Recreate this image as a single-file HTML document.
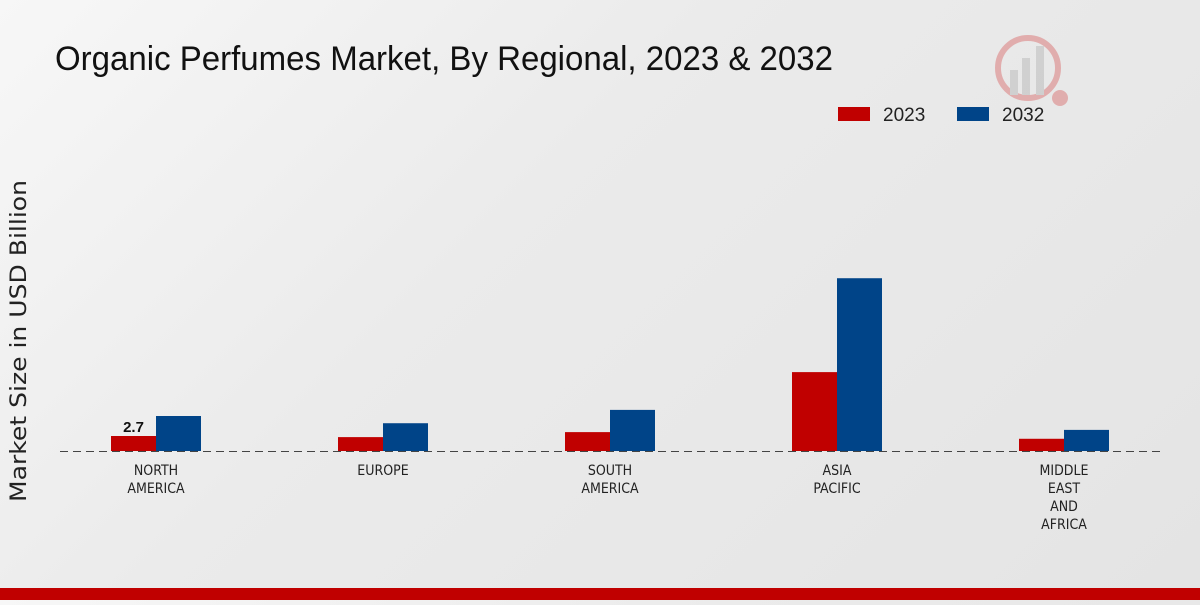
<!DOCTYPE html>
<html><head><meta charset="utf-8">
<style>
html,body{margin:0;padding:0;}
body{width:1200px;height:600px;overflow:hidden;background:linear-gradient(135deg,#f7f7f7 0%,#ebebeb 40%,#e4e4e4 100%);font-family:"Liberation Sans",sans-serif;}
</style></head>
<body>
<svg id="chart" width="1200" height="600" xmlns="http://www.w3.org/2000/svg">
<text x="55" y="70" font-family="Liberation Sans Narrow, Liberation Sans, sans-serif" font-size="34" fill="#111" textLength="778" lengthAdjust="spacingAndGlyphs">Organic Perfumes Market, By Regional, 2023 &amp; 2032</text>
<g opacity="0.25">
<circle cx="1028" cy="68" r="30" fill="none" stroke="#c00" stroke-width="6"/>
<rect x="1010" y="70" width="8" height="25" fill="#888"/>
<rect x="1022" y="58" width="8" height="37" fill="#888"/>
<rect x="1036" y="46" width="8" height="49" fill="#888"/>
<circle cx="1060" cy="98" r="8" fill="#c00"/>
</g>
<g>
<rect x="838" y="107" width="32" height="14" fill="#c00000"/>
<text x="883" y="121" font-size="19" fill="#222">2023</text>
<rect x="957" y="107" width="32" height="14" fill="#004488"/>
<text x="1002" y="121" font-size="19" fill="#222">2032</text>
</g>
<text transform="translate(26,341) rotate(-90)" text-anchor="middle" font-family="DejaVu Sans, sans-serif" font-size="22" fill="#222" textLength="322" lengthAdjust="spacingAndGlyphs">Market Size in USD Billion</text>
<g id="bars"></g>
<line x1="60" y1="451.5" x2="1160" y2="451.5" stroke="#444" stroke-dasharray="8,5" stroke-width="1"/>
<g id="labels"></g>
<rect x="0" y="588" width="1200" height="12" fill="#c00000"/>
</svg>
<script>
const categories=[["NORTH","AMERICA"],["EUROPE"],["SOUTH","AMERICA"],["ASIA","PACIFIC"],["MIDDLE","EAST","AND","AFRICA"]];
const values2023=[2.7,2.5,3.4,14.2,2.2];
const values2032=[6.3,5.0,7.4,31.1,3.8];
const ns="http://www.w3.org/2000/svg";
const base=451, pxPerUnit=15/2.7, x0=156, step=227, bw=45;
const y=v=>base-v*pxPerUnit;
const bars=document.getElementById('bars'), labels=document.getElementById('labels');
categories.forEach((c,i)=>{
  const cx=x0+i*step;
  [[values2023,'#c00000',cx-bw,'2023'],[values2032,'#004488',cx,'2032']].forEach(([arr,col,x,yr])=>{
    const r=document.createElementNS(ns,'rect');
    r.setAttribute('x',x);r.setAttribute('y',y(arr[i]));r.setAttribute('width',bw);r.setAttribute('height',base-y(arr[i]));r.setAttribute('fill',col);
    
    
    bars.appendChild(r);
  });
  c.forEach((ln,k)=>{
    const t=document.createElementNS(ns,'text');
    t.setAttribute('x',cx);t.setAttribute('y',475+k*18);t.setAttribute('text-anchor','middle');t.setAttribute('font-size','14');t.setAttribute('fill','#222');
    t.setAttribute('font-family','DejaVu Sans Condensed, DejaVu Sans, sans-serif');
    t.textContent=ln;
    
    
    labels.appendChild(t);
  });
});
const vl=document.createElementNS(ns,'text');
vl.setAttribute('x',x0-bw/2);vl.setAttribute('y',y(values2023[0])-4);vl.setAttribute('text-anchor','middle');vl.setAttribute('font-size','15');vl.setAttribute('font-weight','bold');vl.setAttribute('fill','#111');
vl.textContent=values2023[0];


labels.appendChild(vl);
</script>
</body></html>
